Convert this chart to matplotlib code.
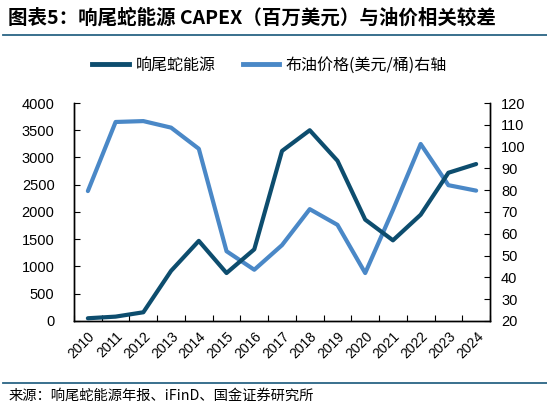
import matplotlib.pyplot as plt
from matplotlib.lines import Line2D

plt.rcParams['font.family'] = ['Liberation Sans', 'Noto Sans CJK SC', 'DejaVu Sans']

# 数据
years = [str(y) for y in range(2010, 2025)]
capex = [50, 80, 160, 920, 1470, 880, 1315, 3120, 3500, 2940, 1860, 1480, 1950, 2720, 2880]
brent = [79.6, 111.3, 111.7, 108.7, 99.0, 52.0, 43.5, 54.8, 71.3, 64.1, 42.0, 70.9, 101.2, 82.3, 79.8]

dark = '#0d4d6e'
light = '#4a88c7'
rule = '#2a6585'

fig = plt.figure(figsize=(5.47, 4.16), dpi=100)
ax = fig.add_axes([0.1353, 0.2284, 0.7605, 0.524])
ax2 = ax.twinx()

x = range(len(years))
ax.plot(x, capex, color=dark, lw=3, solid_capstyle='round', zorder=3)
ax2.plot(x, brent, color=light, lw=3, solid_capstyle='round', zorder=2)
ax.set_zorder(ax2.get_zorder() + 1)
ax.patch.set_visible(False)

ax.set_xlim(-0.47, 14.47)
ax.set_ylim(0, 4000)
ax.set_yticks(range(0, 4001, 500))
ax2.set_ylim(20, 120)
ax2.set_yticks(range(20, 121, 10))

ax.set_xticks([i + 0.5 for i in range(-1, 15)])
ax.set_xticklabels([])
ax.set_xticks(list(x), minor=True)
ax.set_xticklabels(years, minor=True, rotation=45, ha='right', rotation_mode='anchor')
ax.tick_params(axis='x', which='minor', length=0, pad=6, labelsize=10)
ax.tick_params(axis='x', which='major', direction='in', length=4)
ax.tick_params(axis='y', direction='in', length=4, labelsize=10.5, pad=14)
ax2.tick_params(axis='y', direction='in', length=4, labelsize=10.5, pad=8)

for a in (ax, ax2):
    a.spines['top'].set_visible(False)
    for s in a.spines.values():
        s.set_linewidth(1.0)

# 图例
handles = [Line2D([], [], color=dark, lw=3.5), Line2D([], [], color=light, lw=3.5)]
fig.legend(handles, ['响尾蛇能源', '布油价格(美元/桶)右轴'], loc='center',
           bbox_to_anchor=(0.493, 0.843), ncol=2, frameon=False,
           handlelength=2.3, columnspacing=1.7, handletextpad=0.4,
           prop={'family': ['Noto Sans CJK SC', 'DejaVu Sans'], 'size': 11.5})

# 标题与来源
fig.text(0.015, 0.957, '图表5：响尾蛇能源 CAPEX（百万美元）与油价相关较差', fontsize=14,
         fontweight='bold', va='center', ha='left',
         family=['Noto Sans CJK SC', 'DejaVu Sans'])
fig.add_artist(Line2D([0.005, 1.0], [0.915, 0.915], color=rule, lw=1.3))
fig.add_artist(Line2D([0.005, 1.0], [0.079, 0.079], color=rule, lw=1.3))
fig.text(0.015, 0.048, '来源：响尾蛇能源年报、iFinD、国金证券研究所', fontsize=10.3,
         va='center', ha='left', family=['Noto Sans CJK SC', 'DejaVu Sans'])

fig.savefig('out.png', dpi=100)
